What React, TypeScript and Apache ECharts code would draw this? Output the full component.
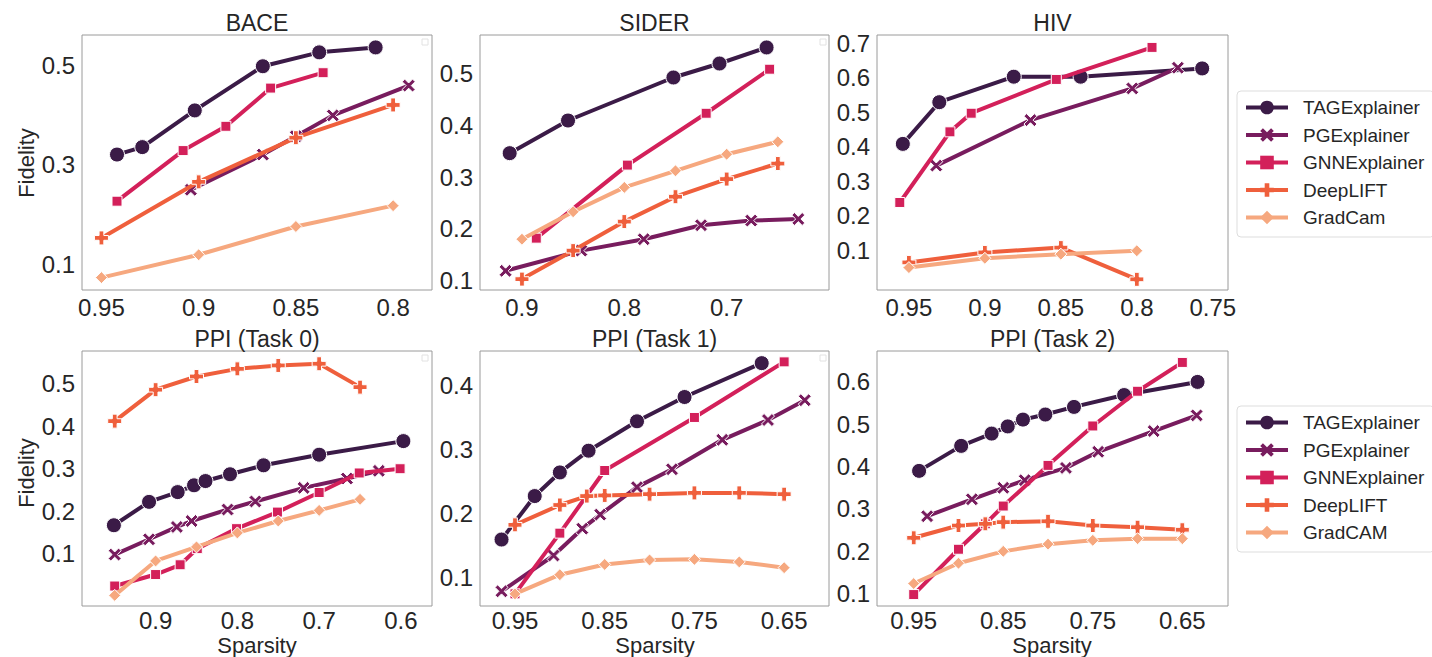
import React, { useEffect, useRef } from "react";
import * as echarts from "echarts";

// ---------- data ----------
const METHODS = ["TAGExplainer", "PGExplainer", "GNNExplainer", "DeepLIFT", "GradCam"];
const METHODS_PPI = ["TAGExplainer", "PGExplainer", "GNNExplainer", "DeepLIFT", "GradCAM"];
const TITLES = ["BACE", "SIDER", "HIV", "PPI (Task 0)", "PPI (Task 1)", "PPI (Task 2)"];

// BACE
const BACE_TAG = [[0.942, 0.321], [0.929, 0.336], [0.902, 0.41], [0.867, 0.499], [0.838, 0.527], [0.809, 0.537]];
const BACE_PG = [[0.904, 0.25], [0.867, 0.321], [0.85, 0.358], [0.831, 0.4], [0.792, 0.46]];
const BACE_GNN = [[0.942, 0.227], [0.908, 0.329], [0.886, 0.378], [0.863, 0.455], [0.836, 0.486]];
const BACE_DL = [[0.95, 0.153], [0.9, 0.266], [0.85, 0.355], [0.8, 0.421]];
const BACE_GC = [[0.95, 0.073], [0.9, 0.119], [0.85, 0.176], [0.8, 0.218]];

// SIDER
const SIDER_TAG = [[0.912, 0.346], [0.855, 0.409], [0.752, 0.492], [0.707, 0.519], [0.661, 0.55]];
const SIDER_PG = [[0.916, 0.119], [0.842, 0.158], [0.781, 0.18], [0.725, 0.207], [0.676, 0.216], [0.63, 0.219]];
const SIDER_GNN = [[0.886, 0.182], [0.797, 0.323], [0.72, 0.423], [0.658, 0.508]];
const SIDER_DL = [[0.9, 0.103], [0.85, 0.158], [0.8, 0.214], [0.75, 0.262], [0.7, 0.296], [0.65, 0.326]];
const SIDER_GC = [[0.9, 0.18], [0.85, 0.233], [0.8, 0.28], [0.75, 0.312], [0.7, 0.344], [0.65, 0.368]];

// HIV
const HIV_TAG = [[0.954, 0.408], [0.93, 0.529], [0.881, 0.603], [0.837, 0.603], [0.757, 0.627]];
const HIV_PG = [[0.932, 0.345], [0.87, 0.477], [0.803, 0.569], [0.773, 0.629]];
const HIV_GNN = [[0.956, 0.238], [0.923, 0.443], [0.909, 0.497], [0.853, 0.595], [0.79, 0.688]];
const HIV_DL = [[0.95, 0.064], [0.9, 0.093], [0.85, 0.107], [0.8, 0.015]];
const HIV_GC = [[0.95, 0.049], [0.9, 0.076], [0.85, 0.088], [0.8, 0.098]];

// PPI Task 0
const PPI0_TAG = [[0.951, 0.167], [0.908, 0.222], [0.873, 0.245], [0.853, 0.261], [0.839, 0.271], [0.809, 0.287], [0.768, 0.308], [0.7, 0.333], [0.597, 0.365]];
const PPI0_PG = [[0.95, 0.098], [0.908, 0.134], [0.874, 0.163], [0.856, 0.177], [0.812, 0.204], [0.778, 0.223], [0.719, 0.255], [0.666, 0.277], [0.627, 0.295]];
const PPI0_GNN = [[0.95, 0.024], [0.9, 0.051], [0.87, 0.074], [0.849, 0.112], [0.801, 0.159], [0.751, 0.198], [0.7, 0.244], [0.651, 0.29], [0.601, 0.3]];
const PPI0_DL = [[0.95, 0.412], [0.9, 0.486], [0.85, 0.517], [0.8, 0.535], [0.75, 0.543], [0.7, 0.547], [0.65, 0.492]];
const PPI0_GC = [[0.95, 0.002], [0.9, 0.083], [0.85, 0.116], [0.8, 0.149], [0.75, 0.177], [0.7, 0.202], [0.65, 0.228]];

// PPI Task 1
const PPI1_TAG = [[0.965, 0.159], [0.928, 0.227], [0.9, 0.264], [0.868, 0.298], [0.814, 0.344], [0.761, 0.382], [0.675, 0.435]];
const PPI1_PG = [[0.965, 0.078], [0.907, 0.134], [0.875, 0.176], [0.855, 0.198], [0.814, 0.241], [0.775, 0.269], [0.719, 0.315], [0.668, 0.346], [0.627, 0.377]];
const PPI1_GNN = [[0.95, 0.074], [0.9, 0.169], [0.85, 0.267], [0.75, 0.35], [0.65, 0.437]];
const PPI1_DL = [[0.95, 0.182], [0.9, 0.213], [0.87, 0.227], [0.85, 0.228], [0.8, 0.23], [0.75, 0.232], [0.7, 0.232], [0.65, 0.23]];
const PPI1_GC = [[0.95, 0.074], [0.9, 0.104], [0.85, 0.12], [0.8, 0.127], [0.75, 0.128], [0.7, 0.124], [0.65, 0.115]];

// PPI Task 2
const PPI2_TAG = [[0.944, 0.39], [0.897, 0.449], [0.863, 0.478], [0.845, 0.495], [0.828, 0.511], [0.803, 0.523], [0.771, 0.541], [0.715, 0.569], [0.633, 0.6]];
const PPI2_PG = [[0.935, 0.283], [0.885, 0.323], [0.85, 0.35], [0.826, 0.368], [0.78, 0.397], [0.744, 0.435], [0.682, 0.484], [0.634, 0.521]];
const PPI2_GNN = [[0.95, 0.098], [0.9, 0.205], [0.87, 0.265], [0.85, 0.307], [0.8, 0.403], [0.75, 0.496], [0.7, 0.578], [0.65, 0.646]];
const PPI2_DL = [[0.95, 0.232], [0.9, 0.261], [0.87, 0.265], [0.85, 0.269], [0.8, 0.271], [0.75, 0.261], [0.7, 0.257], [0.65, 0.251]];
const PPI2_GC = [[0.95, 0.124], [0.9, 0.172], [0.85, 0.2], [0.8, 0.217], [0.75, 0.226], [0.7, 0.23], [0.65, 0.23]];

// axis ranges & tick labels
const X_RANGES = [[0.78, 0.96], [0.6, 0.941], [0.74, 0.971], [0.562, 0.99], [0.6, 0.989], [0.599, 0.991]];
const Y_RANGES = [[0.048, 0.562], [0.082, 0.574], [-0.016, 0.724], [-0.023, 0.577], [0.055, 0.454], [0.071, 0.673]];
const X_TICKS = [[0.95, 0.9, 0.85, 0.8], [0.9, 0.8, 0.7], [0.95, 0.9, 0.85, 0.8, 0.75], [0.9, 0.8, 0.7, 0.6], [0.95, 0.85, 0.75, 0.65], [0.95, 0.85, 0.75, 0.65]];
const Y_TICKS = [[0.1, 0.3, 0.5], [0.1, 0.2, 0.3, 0.4, 0.5], [0.1, 0.2, 0.3, 0.4, 0.5, 0.6, 0.7], [0.1, 0.2, 0.3, 0.4, 0.5], [0.1, 0.2, 0.3, 0.4], [0.1, 0.2, 0.3, 0.4, 0.5, 0.6]];

const PANEL_DATA = [
  [BACE_TAG, BACE_PG, BACE_GNN, BACE_DL, BACE_GC],
  [SIDER_TAG, SIDER_PG, SIDER_GNN, SIDER_DL, SIDER_GC],
  [HIV_TAG, HIV_PG, HIV_GNN, HIV_DL, HIV_GC],
  [PPI0_TAG, PPI0_PG, PPI0_GNN, PPI0_DL, PPI0_GC],
  [PPI1_TAG, PPI1_PG, PPI1_GNN, PPI1_DL, PPI1_GC],
  [PPI2_TAG, PPI2_PG, PPI2_GNN, PPI2_DL, PPI2_GC],
];

// ---------- styling ----------
const COLORS = ["#3b1b47", "#781c5e", "#d3205a", "#ef5f3c", "#f6a87f"];
const X_PATH = "path://M0,2 L2,0 L5,3 L8,0 L10,2 L7,5 L10,8 L8,10 L5,7 L2,10 L0,8 L3,5 Z";
const PLUS_PATH = "path://M3.3,0 H6.7 V3.3 H10 V6.7 H6.7 V10 H3.3 V6.7 H0 V3.3 H3.3 Z";
const SYMBOLS = ["circle", X_PATH, "rect", PLUS_PATH, "diamond"];
const SYMBOL_SIZES = [15, 13, 10, 14, 12];
const FONT = '"Liberation Sans", Arial, sans-serif';
const TEXT_COLOR = "#262626";

const GRIDS = [
  { left: 82, top: 35, width: 350, height: 255 },
  { left: 480, top: 35, width: 349, height: 255 },
  { left: 877, top: 35, width: 351, height: 255 },
  { left: 82, top: 351, width: 350, height: 255 },
  { left: 480, top: 351, width: 349, height: 255 },
  { left: 877, top: 351, width: 351, height: 255 },
];

const fmt = (v: number) => String(Number(Number(v).toFixed(2)));

export default function App() {
  const ref = useRef<HTMLDivElement>(null);
  useEffect(() => {
    document.body.style.margin = "0";
    if (!ref.current) return;
    const chart = echarts.init(ref.current, undefined, { renderer: "svg" });

    const grid = GRIDS.map((g) => ({
      ...g,
      show: true,
      borderColor: "#9a9a9a",
      borderWidth: 1,
      backgroundColor: "transparent",
      containLabel: false,
    }));

    const xAxis = X_RANGES.map((r, i) => ({
      type: "value",
      gridIndex: i,
      inverse: true,
      min: r[0],
      max: r[1],
      axisLine: { show: false },
      axisTick: { show: false },
      splitLine: { show: false },
      axisLabel: {
        customValues: X_TICKS[i],
        formatter: fmt,
        fontSize: 24,
        lineHeight: 20,
        fontFamily: FONT,
        color: TEXT_COLOR,
        margin: i < 3 ? 7 : 4,
      },
    }));

    const yAxis = Y_RANGES.map((r, i) => ({
      type: "value",
      gridIndex: i,
      min: r[0],
      max: r[1],
      axisLine: { show: false },
      axisTick: { show: false },
      splitLine: { show: false },
      axisLabel: {
        customValues: Y_TICKS[i],
        formatter: fmt,
        fontSize: 24,
        fontFamily: FONT,
        color: TEXT_COLOR,
        margin: 7,
      },
    }));

    const series: any[] = [];
    PANEL_DATA.forEach((panel, pi) => {
      panel.forEach((data, si) => {
        series.push({
          type: "line",
          name: pi < 3 ? METHODS[si] : METHODS_PPI[si],
          xAxisIndex: pi,
          yAxisIndex: pi,
          data,
          symbol: SYMBOLS[si],
          symbolSize: SYMBOL_SIZES[si],
          showAllSymbol: true,
          lineStyle: { width: 4, color: COLORS[si] },
          itemStyle: { color: COLORS[si], borderColor: "#ffffff", borderWidth: 1 },
          emphasis: { disabled: true },
          z: 2 + si,
        });
      });
    });

    const legendCommon = {
      orient: "vertical",
      left: 1237,
      itemWidth: 42,
      itemHeight: 17,
      itemGap: 8.5,
      padding: [7, 10, 10, 7],
      borderColor: "#dddddd",
      borderWidth: 1,
      borderRadius: 4,
      backgroundColor: "#ffffff",
      selectedMode: false,
      lineStyle: { width: 4 },
      itemStyle: { borderWidth: 0 },
      textStyle: {
        fontSize: 19,
        fontFamily: FONT,
        color: TEXT_COLOR,
        padding: [0, 0, 0, 10],
      },
    };

    const titleTexts = TITLES.map((t, i) => ({
      type: "text",
      x: GRIDS[i].left + GRIDS[i].width / 2,
      y: i < 3 ? 23 : 339,
      style: {
        text: t,
        fontSize: 23,
        fontFamily: FONT,
        fill: TEXT_COLOR,
        align: "center",
        verticalAlign: "middle",
      },
    }));

    const axisNames = [
      { text: "Fidelity", x: 26, y: 163, rot: Math.PI / 2 },
      { text: "Fidelity", x: 26, y: 473, rot: Math.PI / 2 },
      { text: "Sparsity", x: 257, y: 645, rot: 0 },
      { text: "Sparsity", x: 655, y: 645, rot: 0 },
      { text: "Sparsity", x: 1052, y: 645, rot: 0 },
    ].map((a) => ({
      type: "text",
      x: a.x,
      y: a.y,
      rotation: a.rot,
      style: {
        text: a.text,
        fontSize: 22,
        lineHeight: 20,
        fontFamily: FONT,
        fill: TEXT_COLOR,
        align: "center",
        verticalAlign: "middle",
      },
    }));

    const cornerBoxes = [
      [422, 39],
      [820, 39],
      [422, 355],
      [820, 355],
    ].map(([x, y]) => ({
      type: "rect",
      shape: { x, y, width: 6, height: 6 },
      style: { fill: "none", stroke: "#e2e2e2", lineWidth: 1 },
    }));

    chart.setOption({
      animation: false,
      backgroundColor: "#ffffff",
      grid,
      xAxis,
      yAxis,
      series,
      legend: [
        { ...legendCommon, top: 91, data: METHODS },
        { ...legendCommon, top: 406, data: METHODS_PPI },
      ],
      graphic: [...titleTexts, ...axisNames, ...cornerBoxes],
    });

    return () => chart.dispose();
  }, []);

  return <div ref={ref} style={{ width: 1432, height: 657 }} />;
}
